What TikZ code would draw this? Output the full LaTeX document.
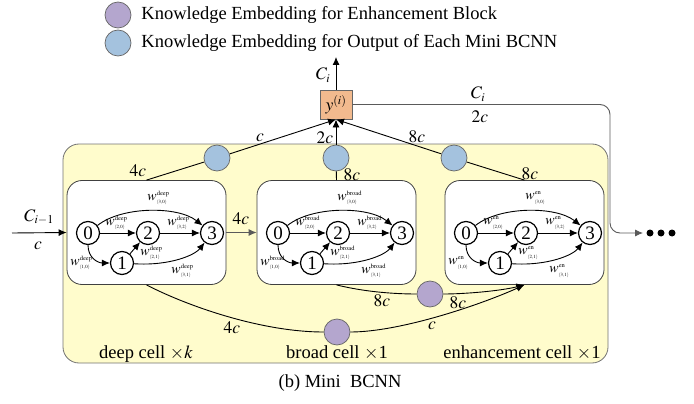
\documentclass[tikz,border=0pt]{standalone}
\usepackage{mathptmx}
\usepackage[no-math]{fontspec}
\setmainfont{Liberation Serif}
\usetikzlibrary{arrows.meta}
\DeclareMathSizes{14}{14}{6.5}{4.8}
\DeclareMathSizes{17.5}{17.5}{12}{9}
\DeclareMathSizes{18.5}{18.5}{13}{10}
\definecolor{ylw}{RGB}{255,252,204}
\definecolor{kblue}{RGB}{164,194,222}
\definecolor{kpurp}{RGB}{180,166,206}
\definecolor{korange}{RGB}{242,186,142}
\definecolor{lgray}{RGB}{90,90,90}
\tikzset{
  arr/.style={-{Latex[length=8pt,width=7pt]}},
  grayarr/.style={draw=lgray,-{Latex[length=8pt,width=7pt]}},
  num/.style={circle, draw, line width=1.2pt, fill=white, minimum size=23pt, inner sep=0pt, font=\fontsize{19}{19}\selectfont},
  cellbox/.style={draw=black!75, fill=white, rounded corners=15pt, minimum width=159pt, minimum height=104pt, line width=0.8pt},
  wlab/.style={font=\fontsize{14}{14}\selectfont, inner sep=0pt},
  lab/.style={font=\fontsize{17.5}{17.5}\selectfont, inner sep=0pt},
  txt/.style={font=\fontsize{18.5}{18.5}\selectfont, inner sep=0pt},
  kb/.style={circle, draw=black!60, fill=kblue, minimum size=26pt, inner sep=0pt, line width=0.7pt},
  kp/.style={circle, draw=black!60, fill=kpurp, minimum size=26pt, inner sep=0pt, line width=0.7pt},
  bigdot/.style={circle, fill=black, minimum size=7pt, inner sep=0pt},
}
\newcommand\mkcell[3]{%
  \node[cellbox] (#1box) at ({#2+79.5},232.5) {};
  \node[num] (#1n0) at ({#2+21},233) {0};
  \node[num] (#1n1) at ({#2+55},263) {1};
  \node[num] (#1n2) at ({#2+81},233) {2};
  \node[num] (#1n3) at ({#2+145},233) {3};
  \draw[arr] (#1n0) -- (#1n2);
  \draw[arr] (#1n2) -- (#1n3);
  \draw[arr] (#1n1) -- (#1n2);
  \draw[arr] (#1n0) .. controls ({#2+21},258) and ({#2+31},263) .. (#1n1);
  \draw[arr] (#1n1) .. controls ({#2+103},266) and ({#2+128},255) .. (#1n3);
  \draw[arr] (#1n0) .. controls ({#2+55},206) and ({#2+111},206) .. (#1n3);
  \node[wlab, anchor=west] (#1w30) at ({#2+80},198) {$w^{\mathrm{#3}}_{\scriptscriptstyle(3,0)}$};
  \node[wlab, anchor=west] (#1w20) at ({#2+38},223) {$w^{\mathrm{#3}}_{\scriptscriptstyle(2,0)}$};
  \node[wlab, anchor=west] (#1w32) at ({#2+100},223) {$w^{\mathrm{#3}}_{\scriptscriptstyle(3,2)}$};
  \node[wlab, anchor=west] (#1w10) at ({#2+3},263) {$w^{\mathrm{#3}}_{\scriptscriptstyle(1,0)}$};
  \node[wlab, anchor=west] (#1w21) at ({#2+73},253) {$w^{\mathrm{#3}}_{\scriptscriptstyle(2,1)}$};
  \node[wlab, anchor=west] (#1w31) at ({#2+104},271) {$w^{\mathrm{#3}}_{\scriptscriptstyle(3,1)}$};
}
\begin{document}
\begin{tikzpicture}[x=1pt,y=-1pt,line width=0.9pt]
\useasboundingbox (0,0) rectangle (694,404);
% legend
\node[kp] (lp) at (118,15) {};
\node[txt, anchor=west] (lpt) at (141,15) {Knowledge Embedding for Enhancement Block};
\node[kb] (lb) at (118,43) {};
\node[txt, anchor=west] (lbt) at (141,43) {Knowledge Embedding for Output of Each Mini BCNN};
% mini BCNN area
\node[draw=black!55, fill=ylw, rounded corners=16pt, minimum width=545pt, minimum height=219pt, line width=0.8pt] (mini) at (335.5,253.5) {};
% output box
\node[draw=black!60, fill=korange, minimum width=32pt, minimum height=29pt, inner sep=0pt, lab] (y) at (336,104.5) {$y^{(i)}$};
\coordinate (ytop) at (336,57);
\draw[arr] (y) -- (ytop);
\node[lab] (lci) at (323,75) {$C_i$};
% right connection
\node[bigdot] (dot1) at (650,233) {};
\node[bigdot] (dot2) at (661,233) {};
\node[bigdot] (dot3) at (672,233) {};
\coordinate (rc1) at (610,104.5);
\coordinate (rc2) at (610,233);
\draw[grayarr, rounded corners=10pt, shorten >=3pt] (y.east) -- (rc1) -- (rc2) -- (dot1);
\node[lab] (lci2) at (478,94) {$C_i$};
\node[lab] (l2c) at (480,117) {$2c$};
% cells
\mkcell{d}{67}{deep}
\mkcell{b}{257}{broad}
\mkcell{e}{445}{en}
% top knowledge embeddings
\node[kb] (k1) at (217,158) {};
\node[kb] (k2) at (336,158) {};
\node[kb] (k3) at (454,158) {};
\draw (dbox.north) -- (k1);
\draw[arr] (k1) -- (y.south);
\draw (bbox.north) -- (k2);
\draw[arr] (k2) -- (y.south);
\draw (ebox.north) -- (k3);
\draw[arr] (k3) -- (y.south);
\node[lab] (t4c) at (138,171) {$4c$};
\node[lab] (tc) at (260,138) {$c$};
\node[lab] (t2c) at (325,138) {$2c$};
\node[lab] (t8ca) at (417,137) {$8c$};
\node[lab] (t8cb) at (352,175) {$8c$};
\node[lab] (t8cc) at (530,174) {$8c$};
% input
\coordinate (in) at (12,233);
\draw[arr] (in) -- (dbox.west);
\node[lab] (lcim) at (39,217) {$C_{i-1}$};
\node[lab] (lcin) at (38,246) {$c$};
% deep -> broad
\draw[grayarr] (dbox.east) -- (bbox.west);
\node[lab] (m4c) at (241,219) {$4c$};
% bottom knowledge embeddings
\node[kp] (p1) at (337,332) {};
\node[kp] (p2) at (430,294) {};
\draw (dbox.south) .. controls (185,305) and (260,332) .. (p1);
\draw[arr] (p1) .. controls (400,332) and (480,305) .. (ebox.south);
\draw (bbox.south) .. controls (365,292) and (395,294) .. (p2);
\draw[arr] (p2) .. controls (465,294) and (500,291) .. (ebox.south);
\node[lab] (b8ca) at (382,301) {$8c$};
\node[lab] (b8cb) at (458,303) {$8c$};
\node[lab] (b4c) at (232,328) {$4c$};
\node[lab] (bc) at (432,326) {$c$};
% captions
\node[txt, anchor=base] (cd) at (146,358) {deep cell $\times k$};
\node[txt, anchor=base] (cb) at (337,358) {broad cell $\times$1};
\node[txt, anchor=base] (ce) at (522,358) {enhancement cell $\times$1};
\node[txt, anchor=base] (cap) at (340,387) {(b) Mini\ \ BCNN};
\end{tikzpicture}
\end{document}
